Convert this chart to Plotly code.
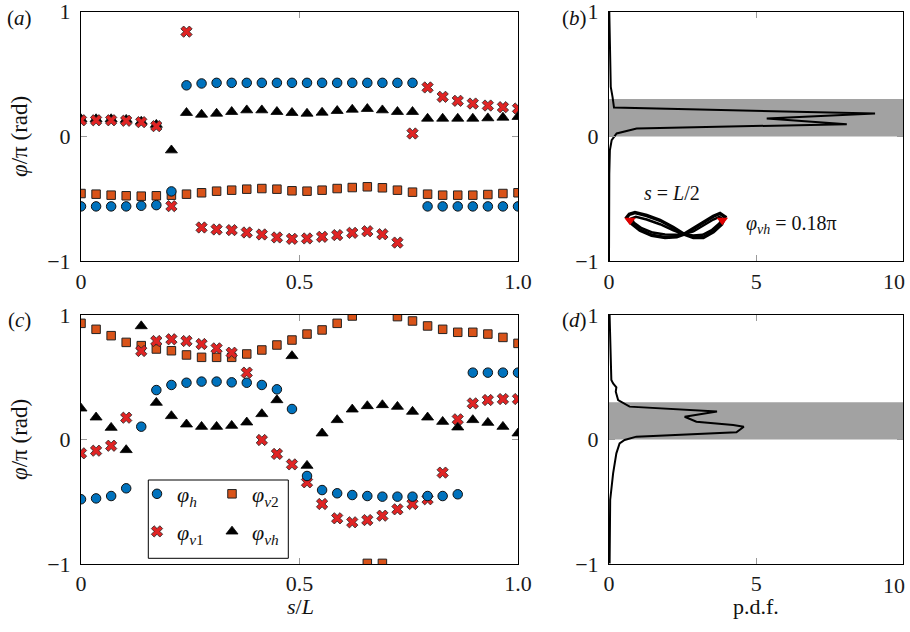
import plotly.graph_objects as go

# ---------------- data ----------------
# arc-length positions along the filament (30 stations)
s = [0, 0.0345, 0.0690, 0.1034, 0.1379, 0.1724, 0.2069, 0.2414, 0.2759, 0.3103,
     0.3448, 0.3793, 0.4138, 0.4483, 0.4828, 0.5172, 0.5517, 0.5862, 0.6207, 0.6552,
     0.6897, 0.7241, 0.7586, 0.7931, 0.8276, 0.8621, 0.8966, 0.9310, 0.9655, 1.0]

# case (a): phases / pi
a_h = [-0.56, -0.56, -0.56, -0.56, -0.555, -0.55, -0.44, 0.41, 0.425, 0.43,
       0.43, 0.43, 0.43, 0.43, 0.43, 0.43, 0.43, 0.43, 0.43, 0.43,
       0.43, 0.43, 0.43, -0.56, -0.56, -0.56, -0.56, -0.56, -0.56, -0.56]
a_v2 = [-0.457, -0.462, -0.47, -0.475, -0.478, -0.475, -0.47, -0.462, -0.451, -0.438,
        -0.43, -0.422, -0.417, -0.422, -0.435, -0.438, -0.43, -0.417, -0.409, -0.403,
        -0.411, -0.43, -0.446, -0.462, -0.47, -0.47, -0.47, -0.465, -0.457, -0.451]
a_v1 = [0.13, 0.13, 0.13, 0.126, 0.115, 0.083, -0.558, 0.84, -0.729, -0.745,
        -0.75, -0.769, -0.785, -0.809, -0.82, -0.817, -0.804, -0.79, -0.772, -0.759,
        -0.783, -0.85, 0.024, 0.393, 0.318, 0.286, 0.264, 0.248, 0.235, 0.224]
a_vh = [0.14, 0.14, 0.14, 0.135, 0.12, 0.095, -0.11, 0.19, 0.176, 0.184,
        0.198, 0.211, 0.211, 0.198, 0.19, 0.184, 0.192, 0.206, 0.216, 0.222,
        0.211, 0.198, 0.198, 0.144, 0.144, 0.144, 0.144, 0.147, 0.152, 0.158]

# case (c): phases / pi
c_h = [-0.48, -0.473, -0.454, -0.392, 0.103, 0.397, 0.438, 0.456, 0.465, 0.465,
       0.459, 0.456, 0.438, 0.403, 0.245, -0.293, -0.406, -0.432, -0.446, -0.454,
       -0.459, -0.459, -0.459, -0.454, -0.454, -0.44, 0.537, 0.537, 0.537, 0.537]
c_v2 = [0.933, 0.885, 0.834, 0.78, 0.754, 0.727, 0.713, 0.679, 0.66, 0.66,
        0.66, 0.687, 0.719, 0.759, 0.799, 0.847, 0.88, 0.933, 0.992, -0.995,
        -0.995, 0.987, 0.952, 0.912, 0.885, 0.861, 0.861, 0.847, 0.82, 0.772]
c_v1 = [-0.111, -0.09, -0.05, 0.175, 0.711, 0.791, 0.805, 0.791, 0.767, 0.732,
        0.697, 0.537, -0.004, -0.116, -0.2, -0.344, -0.518, -0.633, -0.665, -0.647,
        -0.612, -0.561, -0.518, -0.48, -0.266, 0.162, 0.29, 0.317, 0.325, 0.325]
c_vh = [0.25, 0.178, 0.095, -0.084, 0.911, 0.296, 0.189, 0.122, 0.103, 0.103,
        0.111, 0.138, 0.205, 0.317, 0.671, -0.21, 0.05, 0.157, 0.242, 0.269,
        0.277, 0.264, 0.224, 0.178, 0.143, 0.098, 0.157, 0.135, 0.103, 0.05]

# p.d.f. of phi_vh over time (b) and (d)
b_pdf = [0.01, 0.03, 0.06, 0.12, 0.17, 9.04, 5.36, 8.08, 0.94, 0.26, 0.09, 0.03, 0.01, 0.0]
b_phi = [1.0, 0.558, 0.398, 0.318, 0.232, 0.184, 0.144, 0.099, 0.064, 0.024, -0.03, -0.11, -0.30, -1.0]
d_pdf = [0.02, 0.04, 0.08, 0.14, 0.25, 0.23, 0.31, 0.70, 3.67, 2.57, 2.97, 4.22, 4.58, 4.33,
         0.93, 0.53, 0.36, 0.25, 0.14, 0.04, 0.02]
d_phi = [1.0, 0.719, 0.478, 0.45, 0.419, 0.384, 0.317, 0.264, 0.224, 0.183, 0.143, 0.116, 0.103, 0.058,
         0.023, -0.004, -0.031, -0.111, -0.272, -0.486, -0.995]

# shaded phase band
band_lo, band_hi = 0.0, 0.3
band_pdf = [0, 10]

# p.d.f. axis ticks
pdf_ticks = [0, 5, 10]

# figure-eight trajectory at s = L/2 (inset in panel b, in that panel's axes)
traj_x = [2.548, 2.186, 1.733, 1.280, 0.883, 0.691, 0.600, 0.736, 1.053, 1.450, 1.903, 2.299,
          2.548, 2.866, 3.205, 3.545, 3.772, 3.942, 3.828, 3.545, 3.205, 2.866, 2.548]
traj_y = [-0.783, -0.729, -0.671, -0.633, -0.609, -0.623, -0.649, -0.692, -0.751, -0.791, -0.810, -0.804,
          -0.783, -0.737, -0.684, -0.639, -0.617, -0.644, -0.703, -0.764, -0.810, -0.810, -0.783]
traj2_x = [2.548, 2.186, 1.733, 1.280, 0.917, 0.770, 0.849, 1.110, 1.484, 1.903, 2.299,
           2.548, 2.866, 3.205, 3.545, 3.749, 3.851, 3.749, 3.489, 3.183, 2.866, 2.548]
traj2_y = [-0.783, -0.751, -0.703, -0.665, -0.644, -0.657, -0.692, -0.735, -0.770, -0.786, -0.788,
           -0.783, -0.761, -0.713, -0.665, -0.644, -0.660, -0.697, -0.751, -0.788, -0.794, -0.783]
end_x = [0.714, 3.851]
end_y = [-0.671, -0.671]

# ---------------- styling ----------------
FONT = "Liberation Serif, Times New Roman, serif"
W, H = 910, 632
C_H = "#0072BD"
C_V2 = "#D95319"
C_V1 = "#E02424"
C_VH = "#000000"

fig = go.Figure()


def add_phase_panel(xa, ya, h, v1, v2, vh, show):
    # order: triangles, squares, crosses, circles (circles on top)
    fig.add_trace(go.Scatter(x=s, y=vh, mode="markers", xaxis=xa, yaxis=ya,
                             name="<i>φ<sub>vh</sub></i>", legend="legend2", legendrank=2,
                             legendgroup="vh", showlegend=show,
                             marker=dict(symbol="triangle-up", size=10.5, color=C_VH,
                                         line=dict(color="black", width=0.8))))
    fig.add_trace(go.Scatter(x=s, y=v2, mode="markers", xaxis=xa, yaxis=ya,
                             name="<i>φ<sub>v</sub></i><sub>2</sub>", legend="legend2", legendrank=1,
                             legendgroup="v2", showlegend=show,
                             marker=dict(symbol="square", size=8.5, color=C_V2,
                                         line=dict(color="#222", width=1))))
    fig.add_trace(go.Scatter(x=s, y=v1, mode="markers", xaxis=xa, yaxis=ya,
                             name="<i>φ<sub>v</sub></i><sub>1</sub>", legend="legend", legendrank=2,
                             legendgroup="v1", showlegend=show,
                             marker=dict(symbol="x", size=10, color=C_V1,
                                         line=dict(color="#222", width=0.8))))
    fig.add_trace(go.Scatter(x=s, y=h, mode="markers", xaxis=xa, yaxis=ya,
                             name="<i>φ<sub>h</sub></i>", legend="legend", legendrank=1,
                             legendgroup="h", showlegend=show,
                             marker=dict(symbol="circle", size=9.5, color=C_H,
                                         line=dict(color="#111", width=1))))


add_phase_panel("x", "y", a_h, a_v1, a_v2, a_vh, False)
add_phase_panel("x3", "y3", c_h, c_v1, c_v2, c_vh, True)

# p.d.f. curves
fig.add_trace(go.Scatter(x=b_pdf, y=b_phi, mode="lines", xaxis="x2", yaxis="y2",
                         line=dict(color="black", width=2), showlegend=False))
fig.add_trace(go.Scatter(x=d_pdf, y=d_phi, mode="lines", xaxis="x4", yaxis="y4",
                         line=dict(color="black", width=2), showlegend=False))

# inset trajectory
fig.add_trace(go.Scatter(x=traj_x, y=traj_y, mode="lines", xaxis="x2", yaxis="y2",
                         line=dict(color="black", width=3.5), showlegend=False))
fig.add_trace(go.Scatter(x=traj2_x, y=traj2_y, mode="lines", xaxis="x2", yaxis="y2",
                         line=dict(color="black", width=2.5), showlegend=False))
fig.add_trace(go.Scatter(x=end_x, y=end_y, mode="markers", xaxis="x2", yaxis="y2",
                         marker=dict(symbol="triangle-down", size=10, color="#E00000",
                                     line=dict(width=0)), showlegend=False))

# shaded band in both p.d.f. panels
for xr, yr in (("x2", "y2"), ("x4", "y4")):
    fig.add_shape(type="rect", xref=xr, yref=yr, x0=band_pdf[0], x1=band_pdf[1],
                  y0=band_lo, y1=band_hi, fillcolor="#a2a2a2", line=dict(width=0),
                  layer="below")

# ---------------- axes ----------------
dom_x_left = [81 / W, 518 / W]
dom_x_right = [609 / W, 903.3 / W]
dom_y_top = [1 - 261.3 / H, 1 - 11.7 / H]
dom_y_bot = [1 - 564 / H, 1 - 315 / H]

axis_common = dict(showgrid=False, zeroline=False, showline=True, linecolor="black",
                   linewidth=1, mirror="ticks", ticks="inside", ticklen=6,
                   tickcolor="#9a9a9a", tickwidth=1, automargin=False,
                   ticklabeloverflow="allow",
                   tickfont=dict(family=FONT, size=22, color="#1a1a1a"))

yticks = dict(tickvals=[-1, 0, 1], ticktext=["−1", "0", "1"], range=[-1, 1],
              ticklabelstandoff=5)
sticks = dict(tickvals=[0, 0.5, 1], ticktext=["0", "0.5", "1.0"], range=[0, 1],
              ticklabelstandoff=0)
# the last p.d.f. label sits at the page edge; it is written as an annotation below
pticks = dict(tickvals=pdf_ticks, ticktext=[str(v) for v in pdf_ticks[:-1]] + [""],
              range=[pdf_ticks[0], pdf_ticks[-1]], ticklabelstandoff=0)

fig.update_layout(
    xaxis=dict(domain=dom_x_left, anchor="y", **sticks, **axis_common),
    yaxis=dict(domain=dom_y_top, anchor="x", **yticks, **axis_common),
    xaxis2=dict(domain=dom_x_right, anchor="y2", **pticks, **axis_common),
    yaxis2=dict(domain=dom_y_top, anchor="x2", **yticks, **axis_common),
    xaxis3=dict(domain=dom_x_left, anchor="y3", **sticks, **axis_common),
    yaxis3=dict(domain=dom_y_bot, anchor="x3", **yticks, **axis_common),
    xaxis4=dict(domain=dom_x_right, anchor="y4", **pticks, **axis_common),
    yaxis4=dict(domain=dom_y_bot, anchor="x4", **yticks, **axis_common),
)

# ---------------- legend (two columns inside a single box) ----------------
leg_common = dict(xanchor="left", yanchor="top", bgcolor="rgba(0,0,0,0)", borderwidth=0,
                  font=dict(family=FONT, size=22, color="#111"), tracegroupgap=6,
                  itemsizing="trace", orientation="v")
fig.update_layout(
    legend=dict(x=137 / W, y=1 - 473 / H, **leg_common),
    legend2=dict(x=212 / W, y=1 - 473 / H, **leg_common),
)
fig.add_shape(type="rect", xref="paper", yref="paper",
              x0=148.3 / W, x1=288.3 / W, y0=1 - 558.3 / H, y1=1 - 480 / H,
              line=dict(color="black", width=1), fillcolor="white", layer="above")

# ---------------- text ----------------
def note(text, x, y, size=22, angle=0, xanchor="center"):
    fig.add_annotation(text=text, x=x / W, y=1 - y / H, xref="paper", yref="paper",
                       showarrow=False, textangle=angle, xanchor=xanchor, yanchor="middle",
                       font=dict(family=FONT, size=size, color="#111"))


note("(<i>a</i>)", 19, 18, size=21)
note("(<i>b</i>)", 574, 18, size=21)
note("(<i>c</i>)", 19, 320, size=21)
note("(<i>d</i>)", 574, 320, size=21)
note("<i>φ</i>/π (rad)", 19, 137, size=23, angle=-90)
note("<i>φ</i>/π (rad)", 19, 440, size=23, angle=-90)
note("<i>s</i>/<i>L</i>", 300, 606)
note("p.d.f.", 756, 606)
note("<i>s</i> = <i>L</i>/2", 672, 193, size=20)
note("<i>φ<sub>vh</sub></i> = 0.18π", 744, 224, size=20, xanchor="left")

# right-most p.d.f. tick label, pulled in from the page edge
for xr, ylab in (("x2", 282), ("x4", 585)):
    fig.add_annotation(text=str(pdf_ticks[-1]), x=pdf_ticks[-1], xref=xr,
                       y=1 - ylab / H, yref="paper", showarrow=False,
                       xanchor="right", yanchor="middle", xshift=4,
                       font=dict(family=FONT, size=22, color="#1a1a1a"))

fig.update_layout(width=W, height=H, margin=dict(l=0, r=0, t=0, b=0),
                  paper_bgcolor="white", plot_bgcolor="white",
                  font=dict(family=FONT, size=22, color="#111"))

fig.write_html("out.html")
